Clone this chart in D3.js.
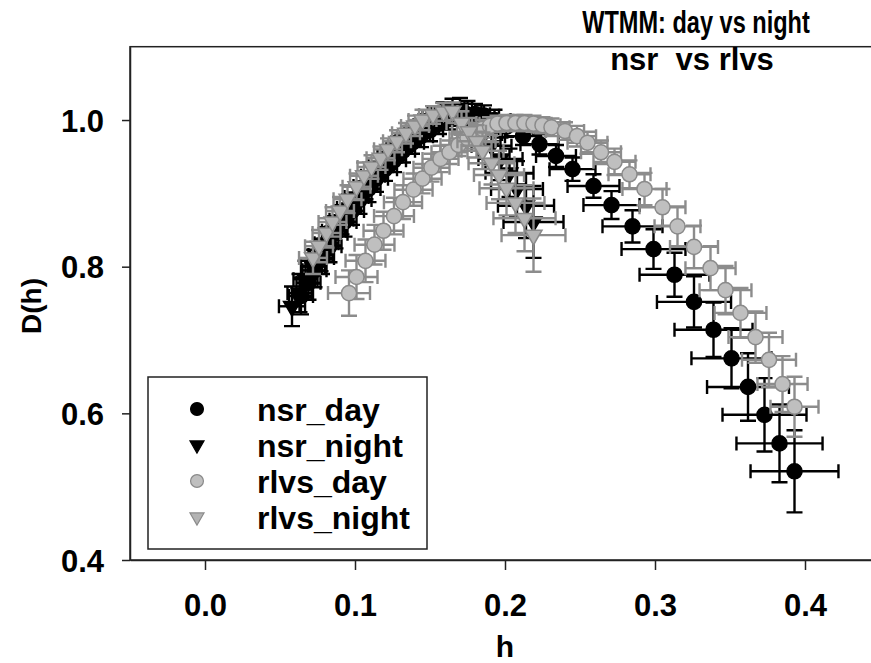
<!DOCTYPE html>
<html>
  <head>
    <meta charset="UTF-8" />
    <style>
      body {
        margin: 0;
        background: #fff;
      }
      svg text {
        font-family: "Liberation Sans", Arial, sans-serif;
        font-weight: bold;
      }
    </style>
  </head>
  <body>
    <svg></svg>

    <script src="https://cdn.jsdelivr.net/npm/d3@7"></script>

    <script>
      let width = 871,
        height = 663;

      // nsr_day
      const nsrDayH = [0.064, 0.069, 0.073, 0.078, 0.083, 0.087, 0.093, 0.098, 0.103, 0.109, 0.114, 0.120, 0.126, 0.132, 0.138, 0.144, 0.150, 0.156, 0.162, 0.168, 0.174, 0.180, 0.186, 0.193, 0.201, 0.212, 0.223, 0.234, 0.245, 0.259, 0.271, 0.285, 0.299, 0.313, 0.326, 0.339, 0.351, 0.362, 0.373, 0.383, 0.393];
      const nsrDayD = [0.760, 0.778, 0.795, 0.812, 0.828, 0.845, 0.861, 0.876, 0.891, 0.906, 0.920, 0.933, 0.945, 0.958, 0.969, 0.978, 0.986, 0.995, 1.001, 1.006, 1.008, 1.008, 1.006, 1.000, 0.991, 0.978, 0.967, 0.951, 0.933, 0.910, 0.884, 0.855, 0.824, 0.789, 0.752, 0.714, 0.675, 0.636, 0.598, 0.559, 0.521];
      const nsrDayHErr = [0.008, 0.008, 0.008, 0.008, 0.008, 0.008, 0.008, 0.008, 0.008, 0.008, 0.008, 0.008, 0.008, 0.008, 0.008, 0.008, 0.0087, 0.0087, 0.0087, 0.0093, 0.0093, 0.010, 0.010, 0.0107, 0.0113, 0.012, 0.0127, 0.0133, 0.0153, 0.0173, 0.0187, 0.020, 0.0213, 0.0233, 0.0247, 0.026, 0.0267, 0.0273, 0.028, 0.0287, 0.0293];
      const nsrDayDErr = [0.025, 0.023, 0.023, 0.022, 0.022, 0.020, 0.020, 0.019, 0.019, 0.018, 0.018, 0.016, 0.016, 0.016, 0.015, 0.015, 0.015, 0.014, 0.014, 0.014, 0.014, 0.014, 0.014, 0.014, 0.014, 0.012, 0.014, 0.015, 0.016, 0.016, 0.019, 0.022, 0.027, 0.030, 0.035, 0.037, 0.041, 0.046, 0.050, 0.053, 0.056];

      // nsr_night
      const nsrNightH = [0.058, 0.063, 0.067, 0.072, 0.077, 0.081, 0.086, 0.091, 0.096, 0.101, 0.107, 0.112, 0.117, 0.123, 0.129, 0.135, 0.141, 0.147, 0.153, 0.159, 0.165, 0.170, 0.175, 0.181, 0.186, 0.191, 0.197, 0.203, 0.208, 0.214, 0.219];
      const nsrNightD = [0.746, 0.764, 0.783, 0.800, 0.816, 0.832, 0.849, 0.864, 0.880, 0.895, 0.910, 0.924, 0.937, 0.950, 0.962, 0.973, 0.984, 0.993, 1.003, 1.010, 1.015, 1.016, 1.010, 0.996, 0.981, 0.965, 0.947, 0.928, 0.906, 0.883, 0.861];
      const nsrNightHErr = [0.0087, 0.008, 0.008, 0.008, 0.008, 0.008, 0.008, 0.008, 0.008, 0.008, 0.008, 0.008, 0.008, 0.008, 0.008, 0.008, 0.008, 0.008, 0.008, 0.008, 0.008, 0.008, 0.0093, 0.0107, 0.012, 0.0133, 0.0147, 0.016, 0.0173, 0.0187, 0.020];
      const nsrNightDErr = [0.027, 0.026, 0.025, 0.023, 0.022, 0.022, 0.020, 0.020, 0.019, 0.019, 0.018, 0.018, 0.016, 0.016, 0.016, 0.015, 0.015, 0.015, 0.014, 0.014, 0.014, 0.014, 0.016, 0.019, 0.022, 0.025, 0.029, 0.033, 0.038, 0.044, 0.049];

      // rlvs_day
      const rlvsDayH = [0.096, 0.101, 0.107, 0.113, 0.119, 0.126, 0.132, 0.139, 0.145, 0.151, 0.157, 0.163, 0.169, 0.175, 0.180, 0.185, 0.190, 0.195, 0.201, 0.207, 0.213, 0.219, 0.225, 0.231, 0.240, 0.248, 0.255, 0.264, 0.273, 0.283, 0.293, 0.305, 0.315, 0.326, 0.337, 0.347, 0.357, 0.367, 0.376, 0.385, 0.393];
      const rlvsDayD = [0.764, 0.786, 0.808, 0.830, 0.849, 0.869, 0.888, 0.905, 0.920, 0.935, 0.947, 0.956, 0.966, 0.975, 0.982, 0.988, 0.992, 0.995, 0.996, 0.996, 0.996, 0.995, 0.993, 0.990, 0.985, 0.978, 0.969, 0.956, 0.943, 0.926, 0.906, 0.881, 0.855, 0.827, 0.798, 0.768, 0.737, 0.704, 0.673, 0.640, 0.609];
      const rlvsDayHErr = [0.014, 0.014, 0.0133, 0.0133, 0.0133, 0.0133, 0.0127, 0.0127, 0.0127, 0.012, 0.012, 0.012, 0.012, 0.012, 0.012, 0.012, 0.012, 0.012, 0.012, 0.012, 0.012, 0.012, 0.012, 0.012, 0.0127, 0.0127, 0.0133, 0.0133, 0.014, 0.014, 0.0147, 0.0153, 0.0153, 0.016, 0.0167, 0.0173, 0.0173, 0.018, 0.018, 0.0167, 0.016];
      const rlvsDayDErr = [0.031, 0.030, 0.029, 0.027, 0.026, 0.025, 0.023, 0.022, 0.020, 0.019, 0.018, 0.016, 0.015, 0.014, 0.014, 0.012, 0.012, 0.011, 0.011, 0.011, 0.011, 0.011, 0.011, 0.012, 0.012, 0.014, 0.015, 0.016, 0.018, 0.019, 0.022, 0.025, 0.027, 0.029, 0.030, 0.033, 0.034, 0.035, 0.037, 0.038, 0.041];

      // rlvs_night
      const rlvsNightH = [0.072, 0.076, 0.081, 0.085, 0.090, 0.095, 0.101, 0.106, 0.111, 0.117, 0.122, 0.128, 0.134, 0.140, 0.145, 0.152, 0.159, 0.165, 0.171, 0.176, 0.181, 0.185, 0.191, 0.196, 0.201, 0.207, 0.213, 0.219];
      const rlvsNightD = [0.812, 0.828, 0.846, 0.861, 0.876, 0.892, 0.909, 0.924, 0.936, 0.948, 0.960, 0.971, 0.982, 0.992, 1.000, 1.007, 1.011, 1.012, 0.996, 0.984, 0.971, 0.958, 0.941, 0.925, 0.907, 0.887, 0.866, 0.843];
      const rlvsNightHErr = [0.0093, 0.0093, 0.0093, 0.0093, 0.0093, 0.0093, 0.0093, 0.0093, 0.0093, 0.0093, 0.0093, 0.0093, 0.0093, 0.0093, 0.0093, 0.0093, 0.0093, 0.0093, 0.010, 0.0113, 0.0127, 0.014, 0.0153, 0.0167, 0.018, 0.0193, 0.0207, 0.0213];
      const rlvsNightDErr = [0.022, 0.022, 0.020, 0.020, 0.019, 0.019, 0.018, 0.018, 0.016, 0.016, 0.015, 0.015, 0.014, 0.014, 0.014, 0.012, 0.012, 0.012, 0.016, 0.019, 0.022, 0.025, 0.029, 0.033, 0.037, 0.041, 0.045, 0.050];

      const seriesNames = ["nsr_day", "nsr_night", "rlvs_day", "rlvs_night"];
      const xTicks = [0.0, 0.1, 0.2, 0.3, 0.4];
      const yTicks = [0.4, 0.6, 0.8, 1.0];

      function rows(h, d, he, de) {
        return h.map((v, i) => ({ h: v, d: d[i], he: he[i], de: de[i] }));
      }

      const series = [
        { name: seriesNames[0], shape: "circle", fill: "#000", stroke: "#000", bar: "#000", data: rows(nsrDayH, nsrDayD, nsrDayHErr, nsrDayDErr) },
        { name: seriesNames[1], shape: "triangle", fill: "#000", stroke: "#000", bar: "#000", data: rows(nsrNightH, nsrNightD, nsrNightHErr, nsrNightDErr) },
        { name: seriesNames[2], shape: "circle", fill: "#bfbfbf", stroke: "#8a8a8a", bar: "#8c8c8c", data: rows(rlvsDayH, rlvsDayD, rlvsDayHErr, rlvsDayDErr) },
        { name: seriesNames[3], shape: "triangle", fill: "#b3b3b3", stroke: "#8a8a8a", bar: "#8c8c8c", data: rows(rlvsNightH, rlvsNightD, rlvsNightHErr, rlvsNightDErr) },
      ];

      let svg = d3.select("svg").attr("width", width).attr("height", height);

      let x = d3.scaleLinear().domain([-0.05, 0.45]).range([130, 880]);
      let y = d3.scaleLinear().domain([0.4, 1.1]).range([560, 46.7]);

      // plot frame
      svg
        .append("rect")
        .attr("x", x(-0.05))
        .attr("y", y(1.1))
        .attr("width", x(0.45) - x(-0.05))
        .attr("height", y(0.4) - y(1.1))
        .attr("fill", "none")
        .attr("stroke", "#222")
        .attr("stroke-width", 1.5);

      let xAxis = svg
        .append("g")
        .attr("transform", "translate(0," + y(0.4) + ")")
        .call(d3.axisBottom(x).tickValues(xTicks).tickSize(10).tickSizeOuter(0).tickFormat(d3.format(".1f")));
      xAxis.select(".domain").attr("stroke", "#222").attr("stroke-width", 1.5);
      xAxis.selectAll(".tick line").attr("stroke", "#222").attr("stroke-width", 1.5);
      xAxis.selectAll(".tick text").attr("dy", 0).attr("y", 56).attr("font-size", 31).attr("fill", "#000");

      let yAxis = svg
        .append("g")
        .attr("transform", "translate(" + x(-0.05) + ",0)")
        .call(d3.axisLeft(y).tickValues(yTicks).tickSize(8).tickSizeOuter(0).tickFormat(d3.format(".1f")));
      yAxis.select(".domain").attr("stroke", "#222").attr("stroke-width", 1.5);
      yAxis.selectAll(".tick line").attr("stroke", "#222").attr("stroke-width", 1.5);
      yAxis.selectAll(".tick text").attr("x", -26).attr("dy", "0.36em").attr("font-size", 31).attr("fill", "#000");

      // error bars then markers, series by series
      const capV = 8,
        capH = 7;
      const tri = d3.symbol().type(d3.symbolTriangle).size(125);
      const circ = d3.symbol().type(d3.symbolCircle).size(180);

      series.forEach((s) => {
        let g = svg.append("g").attr("class", "series");
        let bars = g
          .selectAll("g.err")
          .data(s.data)
          .enter()
          .append("g")
          .attr("stroke", s.bar)
          .attr("stroke-width", 2.4)
          .attr("fill", "none");
        bars.append("line")
          .attr("x1", (d) => x(d.h - d.he)).attr("x2", (d) => x(d.h + d.he))
          .attr("y1", (d) => y(d.d)).attr("y2", (d) => y(d.d));
        bars.append("line")
          .attr("x1", (d) => x(d.h)).attr("x2", (d) => x(d.h))
          .attr("y1", (d) => y(d.d - d.de)).attr("y2", (d) => y(d.d + d.de));
        bars.append("path").attr("d", (d) => {
          let x0 = x(d.h - d.he), x1 = x(d.h + d.he), yc = y(d.d);
          let y0 = y(d.d - d.de), y1 = y(d.d + d.de), xc = x(d.h);
          return "M" + x0 + "," + (yc - capH) + "V" + (yc + capH) +
            "M" + x1 + "," + (yc - capH) + "V" + (yc + capH) +
            "M" + (xc - capV) + "," + y0 + "H" + (xc + capV) +
            "M" + (xc - capV) + "," + y1 + "H" + (xc + capV);
        });

        g.selectAll("path.mark")
          .data(s.data)
          .enter()
          .append("path")
          .attr("class", "mark")
          .attr("d", s.shape == "circle" ? circ : tri)
          .attr("transform", (d) => "translate(" + x(d.h) + "," + y(d.d) + ")" + (s.shape == "circle" ? "" : " rotate(180)"))
          .attr("fill", s.fill)
          .attr("stroke", s.stroke)
          .attr("stroke-width", 1.5);
      });

      // legend
      let legend = svg.append("g").attr("class", "legend");
      legend
        .append("rect")
        .attr("x", 148)
        .attr("y", 377)
        .attr("width", 279)
        .attr("height", 172)
        .attr("fill", "#fff")
        .attr("stroke", "#222")
        .attr("stroke-width", 1.5);
      const legCirc = d3.symbol().type(d3.symbolCircle).size(130);
      const legTri = d3.symbol().type(d3.symbolTriangle).size(85);
      series.forEach((s, i) => {
        let yy = 409 + i * 36;
        legend
          .append("path")
          .attr("d", s.shape == "circle" ? legCirc : legTri)
          .attr("transform", "translate(197," + yy + ")" + (s.shape == "circle" ? "" : " rotate(180)"))
          .attr("fill", s.fill)
          .attr("stroke", s.stroke)
          .attr("stroke-width", 1.2);
        legend
          .append("text")
          .attr("x", 257)
          .attr("y", yy)
          .attr("dy", "0.36em")
          .attr("font-size", 32)
          .text(s.name);
      });

      // titles
      svg.append("text").attr("transform", "translate(696,33) scale(0.76,1)").attr("text-anchor", "middle")
        .attr("font-size", 31).text("WTMM: day vs night");
      svg.append("text").attr("x", 692).attr("y", 70).attr("text-anchor", "middle").attr("font-size", 31)
        .style("white-space", "pre").text("nsr  vs rlvs");
      svg.append("text").attr("x", 505).attr("y", 657).attr("text-anchor", "middle").attr("font-size", 30).text("h");
      svg.append("text").attr("transform", "translate(41,306) rotate(-90)").attr("text-anchor", "middle").attr("font-size", 28).text("D(h)");
    </script>
  </body>
</html>
